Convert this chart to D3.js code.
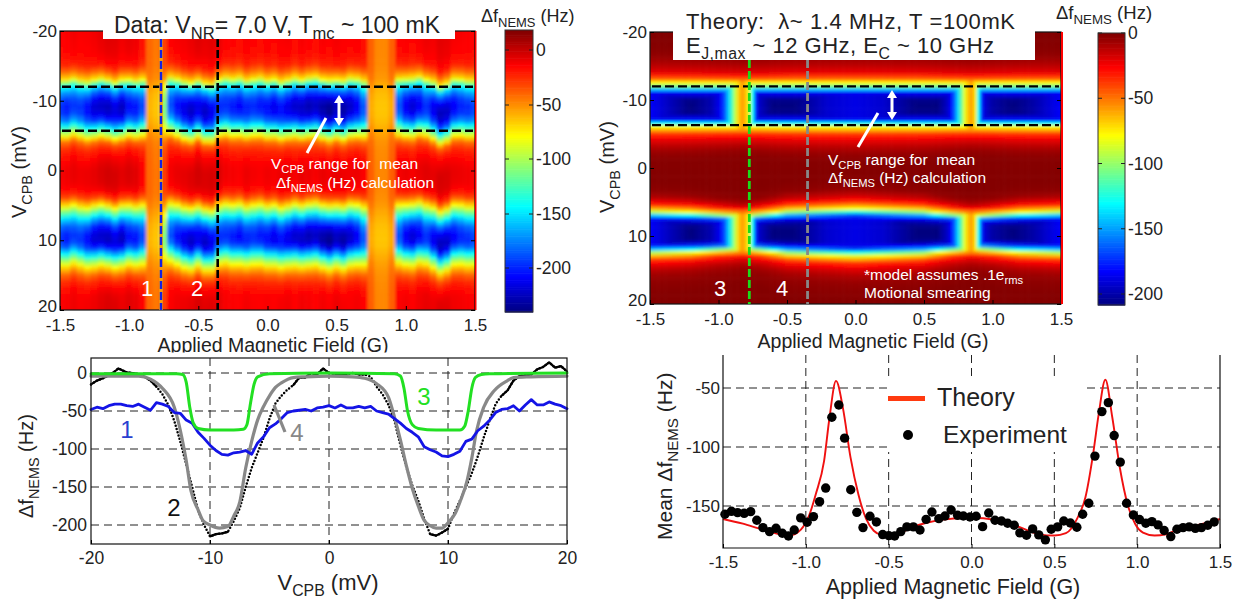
<!DOCTYPE html>
<html><head><meta charset="utf-8">
<script src="https://cdn.jsdelivr.net/npm/d3@7"></script>
<style>
html,body{margin:0;padding:0;background:#fff;overflow:hidden}
svg{display:block}
text{font-family:"Liberation Sans",Arial,sans-serif;fill:#222}
</style></head><body>
<svg id="c" width="1239" height="599"></svg>
<script>
// ---------- Data ----------
const voltageRows=d3.range(-20,21);
const expProfile=[-5,-5,-6,-7,-10,-15,-35,-65,-135,-172,-195,-203,-197,-175,-130,-82,-36,-18,-10,-5,-2,-2,-3,-8,-25,-62,-108,-150,-182,-198,-203,-188,-145,-100,-62,-34,-18,-10,-5,-4,-4];
const expColumnsB=d3.range(-30,31).map(i=>i/20);
const expColBase=[-10,-9,-7,-9,-8,-6,-3,-1,-2,-5,-3,-5,-12,-40,-44,-28,-10,-7,-6,-4,-1,-3,-2,-4,-9,-10,-11,-8,-10,-11,-9,-10,-8,-7,-10,-7,-8,-10,-7,-9,-6,-8,-9,-8,-12,-38,-48,-48,-38,-10,-8,-10,-7,-5,-6,-2,-3,-7,-8,-9,-10];
const expColGain=[.92,.95,.93,.92,.98,1.05,1.08,1.1,1.06,1.08,1,.98,.88,.1,.1,.4,.88,.98,1.03,1.08,1.05,1.08,1.04,.96,.93,.95,.97,.95,.93,.95,.97,1,.98,1.02,1.04,1.06,1.08,1.05,1.1,1.12,1.08,1.1,1.05,1,.86,.1,.08,.08,.1,.88,1,1.03,1,.95,1.02,1.1,1.08,1,.95,.93,.9];
const expColShift=[0,0,.3,0,-.2,0,.2,0,-.3,0,.2,0,.2,0,0,0,.5,.2,-.2,-.4,0,-.5,-.6,.2,.4,.2,.3,0,.2,.3,0,.1,-.2,0,.2,0,.2,.3,0,-.2,0,-.2,.2,.2,0,0,0,0,0,.3,.2,.2,.5,.2,-.2,-.9,-.5,.2,.2,0,0];

const thProfile=[-.5,-1,-1.5,-3,-7,-13,-22,-50,-105,-185,-207,-210,-207,-180,-80,-40,-22,-12,-5,-2,-1,-1,-2,-4,-14,-35,-80,-170,-205,-210,-210,-207,-170,-85,-38,-20,-10,-5,-3,-2,-1];
const thKnotB=[-1.5,-1.2,-1.05,-1,-.96,-.92,-.89,-.87,-.85,-.83,-.79,-.77,-.75,-.73,-.7,-.6,-.45,-.2,0,.2,.45,.6,.68,.71,.74,.77,.8,.83,.86,.88,.9,.92,.95,1,1.15,1.3,1.5];
const thKnotGain=[.88,1,.95,.9,.83,.65,.52,.4,.33,.27,.33,.42,.62,.82,.93,1,1,.92,.9,.92,1,1,.92,.84,.72,.55,.4,.3,.27,.38,.62,.82,.92,.96,1,.96,.88];
const thKnotSpreadB=[-1.5,-1.2,-.82,-.5,0,.5,.85,1.2,1.5];
const thKnotSpread=[1.12,1.18,1.4,1.1,1,1.1,1.4,1.18,1.12];

const dashBands=[-12,-5.7];
const dashBandsTheory=[-12,-6.3];

const meanB=[-1.488,-1.449,-1.412,-1.372,-1.333,-1.296,-1.259,-1.219,-1.18,-1.142,-1.105,-1.07,-1.031,-.992,-.954,-.917,-.88,-.843,-.801,-.766,-.729,-.692,-.655,-.613,-.574,-.536,-.499,-.464,-.427,-.39,-.351,-.311,-.274,-.239,-.197,-.16,-.123,-.084,-.049,-.009,.028,.067,.104,.142,.181,.218,.258,.292,.332,.369,.406,.446,.481,.52,.557,.597,.636,.671,.708,.745,.787,.826,.861,.898,.936,.977,1.014,1.052,1.089,1.126,1.163,1.203,1.24,1.277,1.314,1.351,1.388,1.426,1.465];
const meanExperiment=[-157,-154.5,-155.6,-156.2,-154.8,-162.1,-168.3,-171.7,-168.9,-173.1,-175.4,-170.3,-160.1,-163.8,-159,-146.3,-134.8,-74.8,-64.4,-92.5,-136.2,-155.4,-168.3,-158.7,-163.5,-174.2,-175.1,-175.4,-171.7,-167.7,-167.7,-170.3,-161.3,-155.1,-160.7,-158.5,-153.4,-157.9,-158.5,-159.3,-158.7,-167.5,-155.9,-162.1,-162.7,-164.6,-166.3,-172.8,-174.8,-169.4,-174.5,-178.7,-169.7,-167.7,-162.7,-164.4,-168,-157,-147.7,-107.7,-70,-62.4,-90.3,-112.8,-147.7,-157.6,-161.5,-164.6,-163.2,-166,-170.8,-175.9,-169.7,-168.3,-167.7,-168.9,-168.3,-166.3,-163.5];
const theoryB=[-1.5,-1.38,-1.26,-1.1,-1.03,-.98,-.94,-.89,-.857,-.818,-.776,-.73,-.683,-.636,-.59,-.543,-.497,-.45,-.358,-.265,-.172,-.01,.153,.292,.408,.5,.57,.64,.687,.734,.768,.808,.85,.896,.943,.989,1.035,1.105,1.175,1.244,1.337,1.43,1.5];
const theoryMean=[-161,-165,-170,-175,-170,-158,-140,-112,-75,-44,-67,-109,-140,-161,-171,-174.5,-175,-174,-168,-164,-161.5,-160,-162,-168,-174,-175,-173,-160,-143,-106,-72,-43,-75,-118,-149,-165.5,-172.5,-175,-174,-170,-167,-164,-161];

const curve3V=[-20,-12.8,-12.3,-12,-11.7,-11.4,-11,-10,-8,-7.2,-6.9,-6.6,-6.3,-6,-5,0,5.5,6,6.3,6.6,7,7.5,9,11,11.4,11.7,12,12.3,12.8,13.5,20];
const curve3=[-1,-1,-2,-12,-45,-66,-73,-75,-75,-74,-68,-40,-15,-5,-1,0,-1,-4,-20,-50,-68,-73,-75,-75,-70,-50,-20,-6,-2,-1,0];
const curve4V=[-20,-16,-15,-14,-13,-12.5,-12.2,-12,-11.6,-11,-10.6,-10,-9.2,-8.5,-8,-7.5,-7,-6.5,-6,-5.5,-5,-4.5,-4,-3,-2,0,2,3,4,5,5.5,6,6.5,7,7.5,8,8.5,9,9.5,10,10.6,11,11.6,12,12.4,13,13.9,15,15.5,17,20];
const curve4=[-4,-4,-8,-20,-45,-75,-98,-115,-155,-180,-194,-200,-204,-202,-188,-170,-125,-90,-62,-44,-30,-19,-13,-6,-5,-4,-5,-7,-14,-32,-58,-88,-122,-152,-175,-194,-201,-204,-204,-197,-185,-170,-142,-112,-76,-45,-23,-10,-6,-5,-4];
const curve2V=[-20,-19.5,-19,-18.5,-18,-17.7,-17.3,-17,-16.5,-16,-15.5,-15,-14.5,-14,-13.5,-13,-12.5,-12,-11.5,-11,-10.5,-10,-9.5,-9,-8.5,-8,-7.5,-7,-6.5,-6,-5.5,-5,-4.5,-4,-3.5,-3,-2.5,-2,-1.5,-1,-.5,0,.5,1,1.5,2,2.5,3,3.5,4,4.5,5,5.5,6,6.5,7,7.5,8,8.5,9,9.5,10,10.5,11,11.5,12,12.5,13,13.5,14,14.5,15,15.5,16,16.5,17,17.5,18,18.5,19,19.5,20];
const curve2=[-15,-10,-7,-3,2,6,3,1,0,-2,-5,-10,-18,-28,-42,-63,-90,-120,-150,-181,-200,-215,-212,-211,-209,-195,-178,-150,-125,-105,-85,-60,-40,-30,-22,-16,-6,-6,0,-2,6,0,-1,-3,-1,0,-2,-2,-5,-18,-28,-42,-63,-95,-124,-148,-168,-192,-212,-214,-210,-205,-185,-168,-150,-132,-110,-85,-62,-41,-30,-23,-10,-4,-3,-2,5,8,14,7,9,2];
const curve1V=d3.range(-40,41).map(i=>i/2);
const curve1=[-48,-45,-47,-43,-41,-41,-43,-44,-41,-45,-49,-39,-41,-44,-52,-53,-62,-66,-78,-86,-95,-102,-107,-108,-105,-104,-102,-107,-92,-84,-72,-67,-60,-52,-50,-49,-48,-50,-46,-45,-43,-46,-42,-46,-46,-44,-46,-44,-50,-52,-54,-60,-66,-73,-78,-84,-97,-101,-104,-109,-110,-107,-103,-90,-87,-76,-70,-62,-52,-48,-47,-43,-50,-42,-35,-42,-42,-38,-41,-43,-47];

const xTicks=[-1.5,-1,-.5,0,.5,1,1.5];
const vTicks=[-20,-10,0,10,20];
const cbTicksExp=[0,-50,-100,-150,-200];
const cbTicksTh=[0,-50,-100,-150,-200];

// ---------- helpers ----------
const svg=d3.select("#c");
const defs=svg.append("defs");
const blur=defs.append("filter").attr("id","soft").attr("filterUnits","userSpaceOnUse")
  .attr("x",0).attr("y",0).attr("width",1239).attr("height",599);
blur.append("feGaussianBlur").attr("stdDeviation",1.6);
const jet=[[0,0,127],[0,0,255],[0,255,255],[255,255,0],[255,0,0],[127,0,0]];
const jetStops=[0,.125,.375,.625,.875,1];
function jetScale(lo,hi){
  return d3.scaleLinear().domain(jetStops.map(t=>lo+t*(hi-lo))).range(jet.map(c=>`rgb(${c})`)).clamp(true);
}
const fmt=d=>d3.format(".1f")(d).replace("−","-");
const fmtI=d=>String(d);
function rich(g,x,y,parts,size,opt={}){
  const t=g.append("text").attr("x",x).attr("y",y).attr("font-size",size)
    .attr("text-anchor",opt.anchor||"start").style("fill",opt.fill||"#222");
  if(opt.spacing) t.attr("letter-spacing",opt.spacing);
  if(opt.rotate) t.attr("transform",`rotate(-90 ${x} ${y})`);
  let pending=0;
  parts.forEach(p=>{
    const sub=Array.isArray(p);
    const s=t.append("tspan").text(sub?p[0]:p);
    if(sub){s.attr("dy",size*.28+pending).attr("font-size",size*.72);pending=-size*.28;}
    else{if(pending)s.attr("dy",pending);pending=0;}
  });
  return t;
}
function heatAxes(g,x,y,box){
  g.append("rect").attr("x",box.l).attr("y",box.t).attr("width",box.r-box.l).attr("height",box.b-box.t)
    .attr("fill","none").attr("stroke","#111").attr("stroke-width",1.2);
  const ax=g.append("g").attr("transform",`translate(0,${box.b})`).call(d3.axisBottom(x).tickValues(xTicks).tickSize(-4).tickPadding(9).tickFormat(fmt));
  const ay=g.append("g").attr("transform",`translate(${box.l},0)`).call(d3.axisLeft(y).tickValues(vTicks).tickSize(-4).tickPadding(3).tickFormat(fmtI));
  const ar=g.append("g").attr("transform",`translate(${box.r},0)`).call(d3.axisRight(y).tickValues(vTicks).tickSize(-4).tickFormat(""));
  [ax,ay,ar].forEach(a=>{a.select(".domain").remove();a.selectAll("text").attr("font-size",17);});
  ay.selectAll("text").filter(d=>d===20).attr("y",-3.5);
}
function colorbar(g,box,lo,hi,color,ticks,y){
  const rows=d3.range(0,160);
  const yy=d3.scaleLinear().domain([0,160]).range([box.b,box.t]);
  g.append("g").selectAll("rect").data(rows).join("rect")
    .attr("x",box.l).attr("width",box.r-box.l)
    .attr("y",d=>yy(d+1)).attr("height",d=>yy(d)-yy(d+1)+.6)
    .attr("fill",d=>color(lo+(d+.5)/160*(hi-lo)));
  g.append("rect").attr("x",box.l).attr("y",box.t).attr("width",box.r-box.l).attr("height",box.b-box.t)
    .attr("fill","none").attr("stroke","#333").attr("stroke-width",1);
  const a=g.append("g").attr("transform",`translate(${box.r},0)`).call(d3.axisRight(y).tickValues(ticks).tickSize(0).tickPadding(3).tickFormat(fmtI));
  a.select(".domain").remove();
  a.selectAll("text").attr("font-size",17.5);
  g.append("g").selectAll("line").data(ticks).join("line").attr("x1",box.l).attr("x2",box.l+4)
    .attr("y1",d=>y(d)).attr("y2",d=>y(d)).attr("stroke","#222");
  g.append("g").selectAll("line").data(ticks).join("line").attr("x1",box.r).attr("x2",box.r-4)
    .attr("y1",d=>y(d)).attr("y2",d=>y(d)).attr("stroke","#222");
}
function dash(g,x1,y1,x2,y2,color,w,arr){
  g.append("line").attr("x1",x1).attr("y1",y1).attr("x2",x2).attr("y2",y2).attr("stroke",color).attr("stroke-width",w).attr("stroke-dasharray",arr);
}
function doubleArrow(g,x,y1,y2){
  g.append("line").attr("x1",x).attr("x2",x).attr("y1",y1+6).attr("y2",y2-6).attr("stroke","#fff").attr("stroke-width",3);
  g.append("path").attr("d",`M${x-5},${y1+8}L${x},${y1}L${x+5},${y1+8}Z`).attr("fill","#fff");
  g.append("path").attr("d",`M${x-5},${y2-8}L${x},${y2}L${x+5},${y2-8}Z`).attr("fill","#fff");
}

// ---------- Panel A: data heat map ----------
{
  const box={l:60,r:475,t:31,b:310};
  const g=svg.append("g");
  const x=d3.scaleLinear().domain([-1.5,1.5]).range([box.l,box.r]);
  const y=d3.scaleLinear().domain([-20,20]).range([box.t,box.b]);
  const color=jetScale(-240,18);
  const prof=d3.scaleLinear().domain(voltageRows).range(expProfile).clamp(true);
  const vFine=d3.range(-40,41).map(i=>i/2);
  const cells=[];
  expColumnsB.forEach((b,i)=>vFine.forEach(v=>cells.push({b,v,val:expColBase[i]+expColGain[i]*prof(v+expColShift[i])})));
  defs.append("clipPath").attr("id","clipA").append("rect").attr("x",box.l).attr("y",box.t).attr("width",box.r-box.l).attr("height",box.b-box.t);
  const cw=x(.05)-x(0), ch=y(.5)-y(0);
  g.append("g").attr("clip-path","url(#clipA)").append("g").attr("filter","url(#soft)")
    .selectAll("rect").data(cells).join("rect")
    .attr("x",d=>x(d.b)-cw/2-.3).attr("y",d=>y(d.v)-ch/2-.3).attr("width",cw+.6).attr("height",ch+.6)
    .attr("fill",d=>color(d.val));
  heatAxes(g,x,y,box);
  g.append("rect").attr("x",box.r).attr("y",box.t).attr("width",1.5).attr("height",box.b-box.t).attr("fill","#f00");
  dashBands.forEach(v=>dash(g,box.l+2,y(v),box.r-2,y(v),"#000",2.4,"9 4"));
  dash(g,x(-.77),39,x(-.77),box.b,"#f39a10",3.6,null);
  dash(g,x(-.77),39,x(-.77),box.b,"#1420e0",2.4,"8 3");
  dash(g,x(-.36),39,x(-.36),box.b,"#000",2.6,"8 3");
  g.append("rect").attr("x",103).attr("y",24).attr("width",352).attr("height",15).attr("fill","#fff");
  rich(g,114,33,["Data: V",["NR"],"= 7.0 V, T",["mc"]," ~ 100 mK"],23);
  rich(g,26,218,["V",["CPB"]," (mV)"],20,{rotate:true});
  rich(g,481,22,["Δf",["NEMS"]," (Hz)"],18);
  rich(g,271,169,["V",["CPB"]," range for\u00a0\u00a0mean"],15.5,{fill:"#fff"});
  rich(g,276,188,["Δf",["NEMS"]," (Hz) calculation"],15.5,{fill:"#fff"});
  g.append("text").attr("x",147).attr("y",296).attr("text-anchor","middle").attr("font-size",22).style("fill","#fff").text("1");
  g.append("text").attr("x",197).attr("y",296).attr("text-anchor","middle").attr("font-size",22).style("fill","#fff").text("2");
  g.append("line").attr("x1",326).attr("y1",118).attr("x2",307).attr("y2",153).attr("stroke","#fff").attr("stroke-width",3);
  doubleArrow(g,339,95,126);
  rich(g,273,352,["Applied Magnetic Field (G)"],19.5,{anchor:"middle"});
  g.append("rect").attr("x",150).attr("y",352.5).attr("width",250).attr("height",5).attr("fill","#fff");
  const yc=d3.scaleLinear().domain([0,-50,-100,-150,-200]).range([50,105,159,214,268]);
  colorbar(g,{l:505,r:533,t:30,b:312},-240,18,color,cbTicksExp,yc);
}

// ---------- Panel B: theory heat map ----------
{
  const box={l:650,r:1061,t:32,b:304};
  const g=svg.append("g");
  const x=d3.scaleLinear().domain([-1.5,1.5]).range([box.l,box.r]);
  const y=d3.scaleLinear().domain([-20,20]).range([box.t,box.b]);
  const color=jetScale(-210,0);
  const prof=d3.scaleLinear().domain(voltageRows).range(thProfile).clamp(true);
  const gain=d3.scaleLinear().domain(thKnotB).range(thKnotGain);
  const spread=d3.scaleLinear().domain(thKnotSpreadB).range(thKnotSpread);
  const bFine=d3.range(-60,61).map(i=>i/40), vFine=d3.range(-40,41).map(i=>i/2);
  const remap=(v,b)=>{
    const k=spread(b);
    if(v>0) return Math.max(.5,9.5+(v-9.5)*k);
    const c=-9.2, d=Math.abs(v-c), s=Math.sign(v-c)||1;
    return Math.min(-.5,d<3?v:c+s*(3+(d-3)*(1+(k-1)*.4)));
  };
  const cells=[];
  bFine.forEach(b=>vFine.forEach(v=>{
    cells.push({b,v,val:Math.max(prof(remap(v,b)),-210*gain(b))});
  }));
  defs.append("clipPath").attr("id","clipB").append("rect").attr("x",box.l).attr("y",box.t).attr("width",box.r-box.l).attr("height",box.b-box.t);
  const cw=x(.025)-x(0), ch=y(.5)-y(0);
  g.append("g").attr("clip-path","url(#clipB)").append("g").attr("filter","url(#soft)")
    .selectAll("rect").data(cells).join("rect")
    .attr("x",d=>x(d.b)-cw/2-.3).attr("y",d=>y(d.v)-ch/2-.3).attr("width",cw+.6).attr("height",ch+.6)
    .attr("fill",d=>color(d.val));
  heatAxes(g,x,y,box);
  g.append("rect").attr("x",box.r).attr("y",box.t).attr("width",2).attr("height",box.b-box.t).attr("fill","#f00");
  dashBandsTheory.forEach(v=>dash(g,box.l+2,y(v),box.r-2,y(v),"#000",2.4,"9 4"));
  dash(g,x(-.775),60,x(-.775),box.b,"#1bdc1b",2.8,"8 3");
  dash(g,x(-.35),60,x(-.35),box.b,"#888",2.8,"8 3");
  g.append("rect").attr("x",673).attr("y",24).attr("width",362).attr("height",36).attr("fill","#fff");
  rich(g,686,28.5,["Theory:\u00a0\u00a0λ~ 1.4 MHz, T =100mK"],22,{spacing:.6});
  rich(g,686,53,["E",["J,max"]," ~ 12 GHz, E",["C"]," ~ 10 GHz"],22,{spacing:.5});
  rich(g,614,213,["V",["CPB"]," (mV)"],20,{rotate:true});
  rich(g,1056,19,["Δf",["NEMS"]," (Hz)"],18.5);
  rich(g,828,165,["V",["CPB"]," range for\u00a0\u00a0mean"],15.5,{fill:"#fff"});
  rich(g,828,183,["Δf",["NEMS"]," (Hz) calculation"],15.5,{fill:"#fff"});
  g.append("text").attr("x",720).attr("y",296).attr("text-anchor","middle").attr("font-size",22).style("fill","#fff").text("3");
  g.append("text").attr("x",782).attr("y",296).attr("text-anchor","middle").attr("font-size",22).style("fill","#fff").text("4");
  rich(g,864,280,["*model assumes .1e",["rms"]],15.5,{fill:"#fff"});
  rich(g,864,298,["Motional smearing"],15.5,{fill:"#fff"});
  g.append("line").attr("x1",878).attr("y1",113).attr("x2",858).attr("y2",147).attr("stroke","#fff").attr("stroke-width",3);
  doubleArrow(g,892,90,120);
  rich(g,873,348,["Applied Magnetic Field (G)"],19.5,{anchor:"middle"});
  const yc=d3.scaleLinear().domain([0,-200]).range([33,294]);
  colorbar(g,{l:1098,r:1125,t:33,b:305},-210,0,color,cbTicksTh,yc);
}

// ---------- Panel C: line cuts ----------
{
  const box={l:91,r:567,t:358,b:544};
  const g=svg.append("g");
  const x=d3.scaleLinear().domain([-20,20]).range([box.l,box.r]);
  const y=d3.scaleLinear().domain([0,-200]).range([373,525]);
  const grid=g.append("g");
  [-50,-100,-150,-200,0].forEach(v=>dash(grid,box.l,y(v),box.r,y(v),"#222",1,"8 5"));
  [-10,0,10].forEach(v=>dash(grid,x(v),box.t,x(v),box.b,"#222",1,"8 5"));
  const line=(xs,ys,col,w,extra)=>{
    const pts=xs.map((d,i)=>[d,ys[i]]);
    const p=d3.line().x(d=>x(d[0])).y(d=>y(d[1])).curve(extra&&extra.curve||d3.curveLinear);
    if(extra&&extra.defined) p.defined(extra.defined);
    const e=g.append("path").attr("d",p(pts)).attr("fill","none").attr("stroke",col).attr("stroke-width",w).attr("stroke-linejoin","round").attr("stroke-linecap","round");
    if(extra&&extra.dash) e.attr("stroke-dasharray",extra.dash);
  };
  const flat=d=>Math.abs(d[0])>14.2||Math.abs(d[0])<3.5||(Math.abs(d[0])>8&&Math.abs(d[0])<10.3);
  line(curve2V,curve2,"#000",2.5,{dash:"0 3.4"});
  line(curve2V,curve2,"#000",2.2,{defined:flat});
  line(curve4V,curve4,"#888",3.2,{curve:d3.curveMonotoneX});
  line(curve1V,curve1,"#1414e6",2.8);
  line(curve3V,curve3,"#22e022",3,{curve:d3.curveMonotoneX});
  g.append("rect").attr("x",box.l).attr("y",box.t).attr("width",box.r-box.l).attr("height",box.b-box.t).attr("fill","none").attr("stroke","#111").attr("stroke-width",1.2);
  const ax=g.append("g").attr("transform",`translate(0,${box.b})`).call(d3.axisBottom(x).tickValues([-20,-10,0,10,20]).tickSize(-4).tickPadding(8).tickFormat(fmtI));
  const ay=g.append("g").attr("transform",`translate(${box.l},0)`).call(d3.axisLeft(y).tickValues([0,-50,-100,-150,-200]).tickSize(0).tickPadding(4).tickFormat(fmtI));
  [ax,ay].forEach(a=>{a.select(".domain").remove();a.selectAll("text").attr("font-size",17.5);});
  g.append("line").attr("x1",274).attr("y1",405).attr("x2",285).attr("y2",432).attr("stroke","#888").attr("stroke-width",3.2);
  [["1",127,438,"#2a3fd0"],["2",174,516,"#111"],["3",424,405,"#22e022"],["4",297,441,"#888"]].forEach(d=>{
    g.append("text").attr("x",d[1]).attr("y",d[2]).attr("text-anchor","middle").attr("font-size",24).style("fill",d[3]).text(d[0]);
  });
  rich(g,33,518,["Δf",["NEMS"]," (Hz)"],20,{rotate:true});
  rich(g,328,590,["V",["CPB"]," (mV)"],22,{anchor:"middle"});
}

// ---------- Panel D: mean shift ----------
{
  const box={l:723,r:1220,t:355,b:548};
  const g=svg.append("g");
  const x=d3.scaleLinear().domain([-1.5,1.5]).range([box.l,box.r]);
  const y=d3.scaleLinear().domain([-50,-150]).range([388,506]);
  [-50,-100,-150].forEach(v=>dash(g,box.l,y(v),box.r,y(v),"#222",1,"8 5"));
  [-1,-.5,0,.5,1].forEach(v=>dash(g,x(v),box.t,x(v),box.b,"#222",1,"8 5"));
  g.append("rect").attr("x",888).attr("y",381).attr("width",198).attr("height",71).attr("fill","#fff");
  const ln=d3.line().x(d=>x(d[0])).y(d=>y(d[1])).curve(d3.curveMonotoneX);
  g.append("path").attr("d",ln(theoryB.map((d,i)=>[d,theoryMean[i]]))).attr("fill","none").attr("stroke","#f01010").attr("stroke-width",1.9);
  g.append("g").selectAll("circle").data(meanB.map((d,i)=>[d,meanExperiment[i]])).join("circle")
    .attr("cx",d=>x(d[0])).attr("cy",d=>y(d[1])).attr("r",4.7).attr("fill","#000");
  g.append("path").attr("d",`M${box.l},${box.t}V${box.b}H${box.r}V${box.t}`).attr("fill","none").attr("stroke","#111").attr("stroke-width",1.2);
  const ax=g.append("g").attr("transform",`translate(0,${box.b})`).call(d3.axisBottom(x).tickValues(xTicks).tickSize(-4).tickPadding(8).tickFormat(fmt));
  const ay=g.append("g").attr("transform",`translate(${box.l},0)`).call(d3.axisLeft(y).tickValues([-50,-100,-150]).tickSize(0).tickPadding(3).tickFormat(fmtI));
  [ax,ay].forEach(a=>{a.select(".domain").remove();a.selectAll("text").attr("font-size",17);});
  g.append("rect").attr("x",888).attr("y",396).attr("width",37).attr("height",5).attr("fill","#ff3a10");
  g.append("circle").attr("cx",908).attr("cy",435).attr("r",5).attr("fill","#000");
  g.append("text").attr("x",937).attr("y",406).attr("font-size",25).text("Theory");
  g.append("text").attr("x",943).attr("y",443).attr("font-size",24.5).text("Experiment");
  rich(g,672,540,["Mean  Δf",["NEMS"]," (Hz)"],21,{rotate:true});
  rich(g,953,594,["Applied Magnetic Field (G)"],21.5,{anchor:"middle"});
}
</script>
</body></html>
